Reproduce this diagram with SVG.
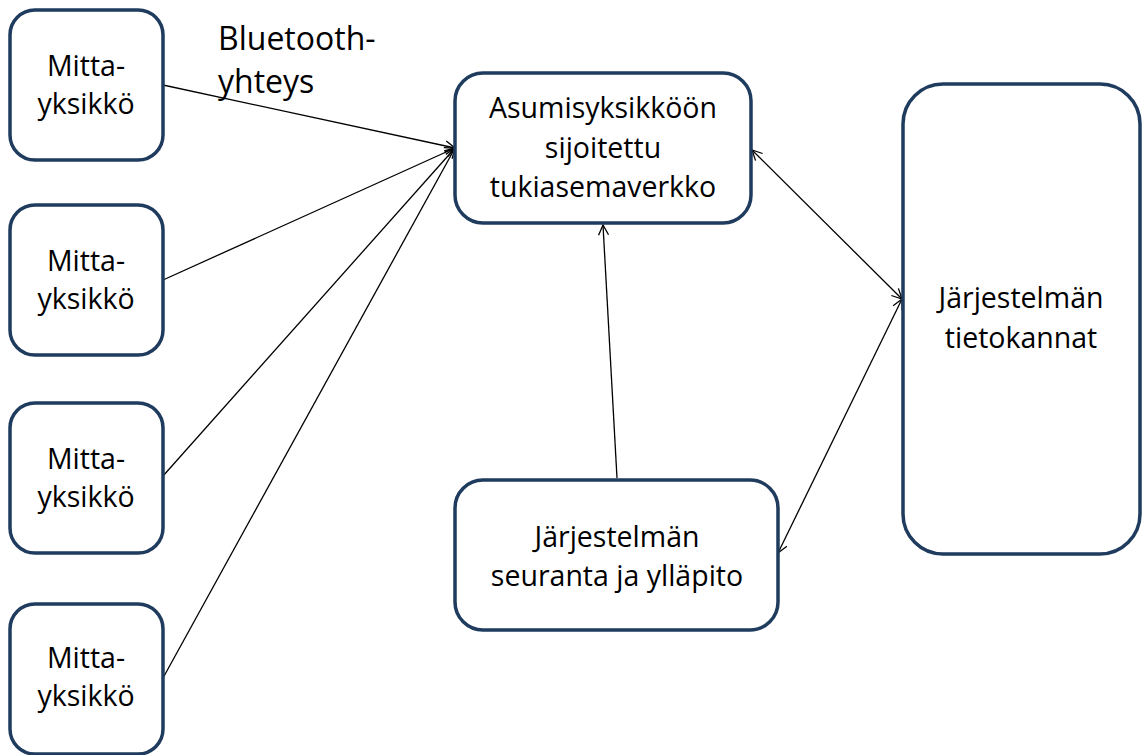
<svg xmlns="http://www.w3.org/2000/svg" width="1144" height="755" viewBox="0 0 1144 755">
<style>
.box{fill:#fff;stroke:#1f3b5e;stroke-width:3.5}
.t{font-family:"Open Sans","Liberation Sans",sans-serif;font-size:28.5px;fill:#000;text-anchor:middle}
.bt{font-family:"Open Sans","Liberation Sans",sans-serif;font-size:32px;fill:#000}
.c{stroke:#000;stroke-width:1.3;fill:none}
</style>
<defs>
<marker id="ah" viewBox="0 0 12 12" refX="11" refY="6" markerWidth="12" markerHeight="12" markerUnits="userSpaceOnUse" orient="auto-start-reverse">
<path d="M1,1 L11,6 L1,11" fill="none" stroke="#000" stroke-width="1.3"/>
</marker>
</defs>
<rect width="1144" height="755" fill="#fff"/>
<g id="connectors">
<line class="c" x1="163" y1="85" x2="455" y2="148" marker-end="url(#ah)"/>
<line class="c" x1="163" y1="280" x2="455" y2="148" marker-end="url(#ah)"/>
<line class="c" x1="163" y1="476" x2="455" y2="148" marker-end="url(#ah)"/>
<line class="c" x1="163" y1="678" x2="455" y2="148" marker-end="url(#ah)"/>
<line class="c" x1="617" y1="478" x2="603" y2="225" marker-end="url(#ah)"/>
<line class="c" x1="752" y1="150" x2="902" y2="299" marker-start="url(#ah)" marker-end="url(#ah)"/>
<line class="c" x1="778" y1="553" x2="902" y2="299" marker-start="url(#ah)" marker-end="url(#ah)"/>
</g>
<text class="bt" x="218" y="50">Bluetooth-</text>
<text class="bt" x="218" y="93">yhteys</text>
<g id="m1"><rect class="box" x="10" y="10" width="153" height="150" rx="25"/><text class="t" x="86" y="76">Mitta-</text><text class="t" x="86" y="114">yksikkö</text></g>
<g id="m2"><rect class="box" x="10" y="205" width="153" height="150" rx="25"/><text class="t" x="86" y="271">Mitta-</text><text class="t" x="86" y="309">yksikkö</text></g>
<g id="m3"><rect class="box" x="10" y="403" width="153" height="150" rx="25"/><text class="t" x="86" y="469">Mitta-</text><text class="t" x="86" y="507">yksikkö</text></g>
<g id="m4"><rect class="box" x="10" y="604" width="153" height="150" rx="25"/><text class="t" x="86" y="668">Mitta-</text><text class="t" x="86" y="706">yksikkö</text></g>
<g id="base"><rect class="box" x="455" y="73" width="296" height="150" rx="28"/><text class="t" x="603" y="118">Asumisyksikköön</text><text class="t" x="603" y="158">sijoitettu</text><text class="t" x="603" y="197">tukiasemaverkko</text></g>
<g id="db"><rect class="box" x="903" y="84" width="237" height="470" rx="40"/><text class="t" x="1021" y="308">Järjestelmän</text><text class="t" x="1021" y="348">tietokannat</text></g>
<g id="mon"><rect class="box" x="455" y="480" width="323" height="150" rx="28"/><text class="t" x="617" y="547">Järjestelmän</text><text class="t" x="617" y="586">seuranta ja ylläpito</text></g>
</svg>
